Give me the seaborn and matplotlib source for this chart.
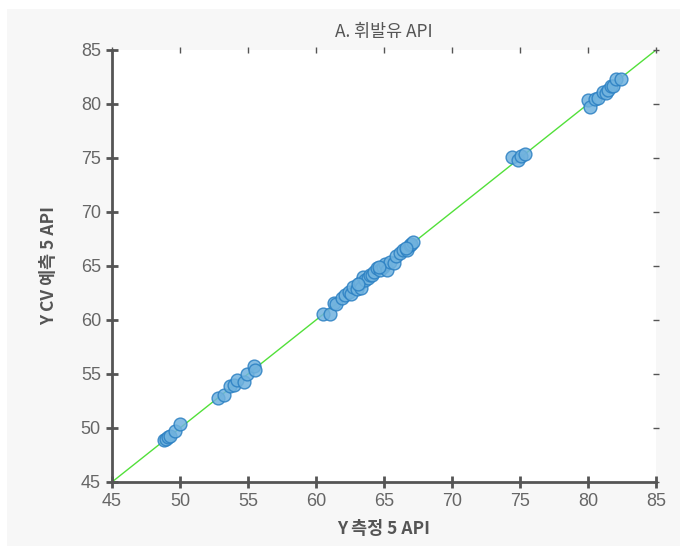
import matplotlib
matplotlib.use("Agg")
import matplotlib.pyplot as plt
import seaborn as sns
import pandas as pd
from matplotlib.patches import Rectangle

# measured (x) and CV predicted (y) API values
measured = [48.8, 48.95, 49.15, 49.3, 49.6, 50.0,
            52.8, 53.25, 53.7, 53.95, 54.2, 54.7, 54.9, 55.45, 55.5,
            60.5, 61.0, 61.35, 61.5, 61.9, 62.1, 62.4, 62.6, 62.75, 63.0,
            63.2, 63.3, 63.45, 63.6, 63.8, 64.0, 64.1, 64.3, 64.5, 64.7,
            64.9, 65.1, 65.2, 65.45, 65.7, 65.9, 66.2, 66.4, 66.7, 66.9,
            67.0, 67.1, 66.6, 63.1, 64.6,
            74.4, 74.85, 75.1, 75.35,
            80.0, 80.15, 80.5, 80.75, 81.1, 81.3, 81.5, 81.7, 81.85, 82.05, 82.4]
predicted = [48.9, 49.0, 49.2, 49.3, 49.75, 50.35,
             52.75, 53.05, 53.85, 54.0, 54.4, 54.3, 55.0, 55.7, 55.35,
             60.55, 60.6, 61.55, 61.5, 62.0, 62.3, 62.6, 62.4, 63.05, 62.9,
             63.4, 62.95, 64.0, 63.7, 63.9, 64.2, 64.15, 64.4, 64.8, 64.6,
             64.95, 65.2, 64.6, 65.4, 65.3, 65.9, 66.2, 66.45, 66.5, 66.9,
             67.0, 67.25, 66.7, 63.3, 64.9,
             75.05, 74.8, 75.15, 75.35,
             80.4, 79.75, 80.45, 80.55, 81.15, 81.0, 81.3, 81.65, 81.7, 82.3, 82.3]

df = pd.DataFrame({"measured": measured, "predicted": predicted})

W, H, DPI = 680, 547, 100
fig = plt.figure(figsize=(W / DPI, H / DPI), dpi=DPI, facecolor="white")
bg = Rectangle((7 / W, 1 / H), 1 - 7 / W, 1 - 10 / H,
               transform=fig.transFigure, facecolor="#f7f7f7",
               edgecolor="none", zorder=-10)
fig.add_artist(bg)
ax = fig.add_axes([112 / W, 1 - 482 / H, 544 / W, 432 / H])
ax.set_facecolor("white")

fonts = ["Noto Sans CJK KR", "DejaVu Sans"]
plt.rcParams["font.family"] = fonts

ax.plot([45, 85], [45, 85], color="#52e03a", lw=1, zorder=1)
sns.scatterplot(data=df, x="measured", y="predicted", ax=ax, s=85,
                color="#70b2de", edgecolor="#2a7fc2", linewidth=1,
                alpha=0.85, zorder=2, legend=False)

ax.set_xlim(45, 85)
ax.set_ylim(45, 85)
ticks = [45, 50, 55, 60, 65, 70, 75, 80, 85]
ax.set_xticks(ticks)
ax.set_yticks(ticks)
tickfont = dict(fontsize=13, color="#666666", family="Liberation Sans")
ax.set_xticklabels([str(t) for t in ticks], **tickfont)
ax.set_yticklabels([str(t) for t in ticks], **tickfont)

for s in ["top", "right"]:
    ax.spines[s].set_visible(False)
for s in ["left", "bottom"]:
    ax.spines[s].set_color("#555555")
    ax.spines[s].set_linewidth(2)

ax.tick_params(axis="both", which="major", direction="inout", length=8,
               width=2, color="#555555", pad=4,
               top=True, right=True)
for t in ax.xaxis.get_major_ticks() + ax.yaxis.get_major_ticks():
    t.tick2line.set_markersize(4)
    t.tick2line.set_markeredgewidth(1)

ax.set_xlabel("Y 측정 5 API", fontsize=12.5, color="#555555", fontweight="semibold",
              family=fonts, labelpad=7)
ax.set_ylabel("Y CV 예측 5 API", fontsize=12.5, color="#555555", fontweight="semibold",
              family=fonts, labelpad=16)
ax.set_title("A. 휘발유 API", fontsize=12.5, color="#555555", fontweight="medium",
             family=fonts, pad=9)

fig.savefig("out.png", dpi=DPI, facecolor=fig.get_facecolor())
